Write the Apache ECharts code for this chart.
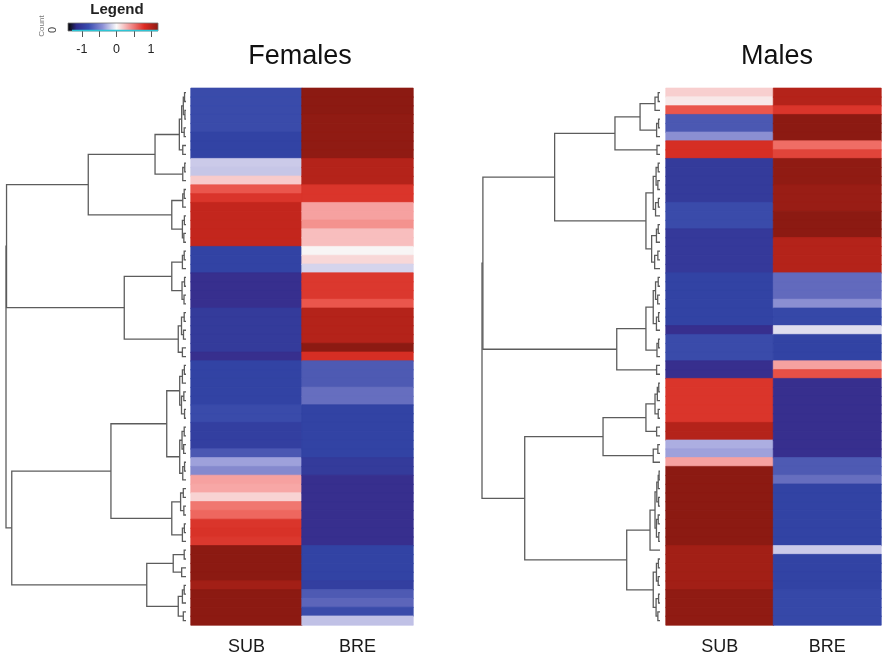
<!DOCTYPE html>
<html>
<head>
<meta charset="utf-8">
<script src="https://cdn.jsdelivr.net/npm/echarts@6/dist/echarts.min.js"></script>
<style>html,body{margin:0;padding:0;background:#fff}#chart{width:885px;height:660px}</style>
</head>
<body>
<div id="chart"></div>
<script>
// ---------------- DATA ----------------
const rowCount = 61;
const columns = ['SUB', 'BRE'];
const panelTitles = ['Females', 'Males'];

const femaleSUB = [-0.92,-0.92,-0.92,-0.92,-0.92,-1.0,-1.0,-1.0,-0.18,-0.2,
  0.2,0.68,0.9,1.05,1.05,1.05,1.05,1.05,-1.0,-1.0,
  -1.0,-1.25,-1.25,-1.25,-1.25,-1.1,-1.1,-1.1,-1.1,-1.1,
  -1.25,-1.0,-1.0,-1.0,-1.0,-1.0,-0.92,-0.92,-1.05,-1.05,
  -1.05,-0.8,-0.36,-0.48,0.38,0.36,0.16,0.54,0.6,0.9,
  0.92,0.88,1.3,1.3,1.3,1.3,1.2,1.3,1.3,1.3,1.3];
const femaleBRE = [1.3,1.3,1.3,1.28,1.28,1.28,1.28,1.28,1.12,1.12,
  1.12,0.9,0.9,0.38,0.38,0.44,0.26,0.26,0.0,0.14,
  -0.14,0.88,0.88,0.88,0.68,1.12,1.12,1.12,1.12,1.3,
  0.95,-0.78,-0.78,-0.78,-0.62,-0.62,-1.0,-1.0,-1.0,-1.0,
  -1.0,-1.0,-1.1,-1.1,-1.25,-1.25,-1.25,-1.25,-1.25,-1.25,
  -1.25,-1.25,-1.0,-1.0,-1.0,-1.0,-1.05,-0.78,-0.68,-0.92,-0.22];
const maleSUB = [0.18,0.06,0.68,-0.8,-0.8,-0.45,0.95,0.95,-1.1,-1.1,
  -1.1,-1.1,-1.1,-0.92,-0.92,-0.92,-1.12,-1.12,-1.12,-1.12,
  -1.12,-1.0,-1.0,-1.0,-1.0,-1.0,-1.0,-1.25,-0.92,-0.92,
  -0.92,-1.25,-1.25,0.9,0.9,0.9,0.9,0.9,1.12,1.12,
  -0.3,-0.36,0.38,1.3,1.3,1.3,1.3,1.3,1.3,1.3,
  1.3,1.3,1.2,1.2,1.2,1.2,1.2,1.28,1.28,1.28,1.28];
const maleBRE = [1.12,1.12,0.9,1.3,1.3,1.3,0.58,0.8,1.28,1.28,
  1.28,1.24,1.24,1.24,1.3,1.3,1.3,1.12,1.12,1.12,
  1.12,-0.64,-0.64,-0.64,-0.45,-0.95,-0.95,-0.1,-1.0,-1.0,
  -1.0,0.38,0.72,-1.25,-1.25,-1.25,-1.25,-1.25,-1.25,-1.25,
  -1.25,-1.25,-0.78,-0.78,-0.62,-1.0,-1.0,-1.0,-1.0,-1.0,
  -1.0,-1.0,-0.18,-1.0,-1.0,-1.0,-1.0,-0.95,-0.95,-0.95,-0.95];

// dendrograms: [height, left, right]; leaves are row indices
const femaleTree = [10,
  [9.97,
    [5.43,
      [1.72,
        [0.37, [0.24, [0.15, [0.08,0,1], [0.06,2,3]], [0.1,4,5]], [0.18,6,7]],
        [0.18, [0.07,8,9], 10]],
      [0.79, [0.18, [0.1,11,12], 13], [0.2, [0.09,14,15], [0.12,16,17]]]],
    [3.43,
      [0.79, [0.2, [0.1,18,19], 20], [0.22, [0.08,21,22], [0.11,23,24]]],
      [0.43, [0.25, [0.1,25,26], [0.14,27,28]], [0.2,29,30]]]],
  [9.68,
    [4.17,
      [1.07,
        [0.35, [0.2, [0.09,31,32], 33], [0.25, [0.12,34,35], [0.08,36,37]]],
        [0.35, [0.22, [0.1,38,39], [0.13,40,41]], [0.18, [0.08,42,43], 44]]],
      [0.79, [0.3, [0.15,45,46], [0.12,47,48]], [0.2, [0.09,49,50], 51]]],
    [2.18,
      [0.71, [0.1,52,53], [0.24,54,55]],
      [0.43, [0.2, [0.1,56,57], 58], [0.15,59,60]]]]];

const maleTree = [10,
  [9.95,
    [5.92,
      [2.53,
        [1.12, [0.28, [0.1,0,1], 2], [0.19, [0.08,3,4], 5]],
        [0.17,6,7]],
      [0.79,
        [0.38, [0.22, [0.1,8,9], [0.12,10,11]], [0.25, [0.09,12,13], 14]],
        [0.47, [0.2, [0.1,15,16], 17], [0.3, [0.12,18,19], 20]]]],
    [2.43,
      [0.79,
        [0.38, [0.25, [0.1,21,22], [0.13,23,24]], [0.2, [0.08,25,26], 27]],
        [0.17, [0.08,28,29], 30]],
      [0.19,31,32]]],
  [7.6,
    [3.2,
      [0.79, [0.28, [0.15, [0.07,33,34], 35], [0.1,36,37]], [0.19,38,39]],
      [0.38, [0.12,40,41], 42]],
    [1.87,
      [0.56,
        [0.28, [0.18, [0.1, [0.05,43,44], 45], [0.08,46,47]], [0.2, [0.1,48,49], [0.07,50,51]]],
        52],
      [0.38, [0.2, [0.09,53,54], [0.1,55,56]], [0.22, [0.08,57,58], [0.12,59,60]]]]]];

const treeMaxHeight = 10;
const legendRange = [-1.4, 1.2];
const legendTicks = [-1, -0.5, 0, 0.5, 1];
const legendLabels = [-1, 0, 1];
const colorMin = -1.3, colorMax = 1.3;

// ---------------- BUILD ----------------
const heatColors = ['#382b8a', '#3245a6', '#6068bc', '#a6a8df', '#f8f5f5', '#f8b0b0', '#ec5a50', '#d42a20', '#8c1a12'];
function hexToRgb(h) { return [parseInt(h.slice(1,3),16), parseInt(h.slice(3,5),16), parseInt(h.slice(5,7),16)]; }
const paletteRgb = heatColors.map(hexToRgb);
function colorFor(v) {
  let t = (v - colorMin) / (colorMax - colorMin);
  t = Math.max(0, Math.min(1, t)) * (paletteRgb.length - 1);
  const i = Math.min(paletteRgb.length - 2, Math.floor(t)), f = t - i;
  const a = paletteRgb[i], b = paletteRgb[i + 1];
  return 'rgb(' + a.map((c, k) => Math.round(c + (b[k] - c) * f)).join(',') + ')';
}
function treeLines(node, out) {
  if (typeof node === 'number') return { h: 0, y: node + 0.5 };
  const a = treeLines(node[1], out), b = treeLines(node[2], out);
  const h = node[0];
  out.push({ coords: [[a.h, a.y], [h, a.y], [h, b.y], [b.h, b.y]] });
  return { h: h, y: (a.y + b.y) / 2 };
}
function heatData(sub, bre) {
  const d = [];
  [sub, bre].forEach(function (col, ci) {
    for (let i = 0; i < rowCount; i++) {
      const c = colorFor(col[i]);
      d.push({ value: [ci, i, col[i]], itemStyle: { color: c, borderColor: c, borderWidth: 0.7 } });
    }
  });
  return d;
}
const femaleLines = []; treeLines(femaleTree, femaleLines);
const maleLines = []; treeLines(maleTree, maleLines);
const rows = Array.from({ length: rowCount }, (_, i) => String(i));

const FONT = '"Liberation Sans", Arial, sans-serif';
const TOP = 88.3, HEIGHT = 536.7;

function dendroAxes(gi) {
  return {
    x: { type: 'value', gridIndex: gi, min: 0, max: treeMaxHeight, inverse: true, show: false },
    y: { type: 'value', gridIndex: gi, min: 0, max: rowCount, inverse: true, show: false }
  };
}
function heatAxes(gi) {
  return {
    x: { type: 'category', gridIndex: gi, data: columns, axisLine: { show: false }, axisTick: { show: false },
         splitLine: { show: false },
         axisLabel: { fontSize: 18, color: '#1a1a1a', fontFamily: FONT, margin: 13 } },
    y: { type: 'category', gridIndex: gi, data: rows, inverse: true, show: false }
  };
}
const fd = dendroAxes(0), fh = heatAxes(1), md = dendroAxes(2), mh = heatAxes(3);

const lo = legendRange[0], hi = legendRange[1];
const off = v => (v - lo) / (hi - lo);
const legendGradient = {
  type: 'linear', x: 0, y: 0, x2: 1, y2: 0,
  colorStops: [
    { offset: off(-1.4), color: '#000000' },
    { offset: off(-1.3), color: '#151530' },
    { offset: off(-1.15), color: '#2e2a8a' },
    { offset: off(-0.8), color: '#3a4cb0' },
    { offset: off(-0.4), color: '#8c90d6' },
    { offset: off(0), color: '#fafafa' },
    { offset: off(0.4), color: '#f29090' },
    { offset: off(0.8), color: '#de2a22' },
    { offset: off(1.2), color: '#8c1a12' }
  ]
};

const option = {
  animation: false,
  backgroundColor: '#ffffff',
  textStyle: { fontFamily: FONT },
  grid: [
    { left: 6, top: TOP, width: 180, height: HEIGHT },
    { left: 191, top: TOP, width: 222, height: HEIGHT },
    { left: 482, top: TOP, width: 178, height: HEIGHT },
    { left: 666, top: TOP, width: 215, height: HEIGHT },
    { left: 68, top: 23, width: 90, height: 8 }
  ],
  xAxis: [fd.x, fh.x, md.x, mh.x, {
    type: 'value', gridIndex: 4, min: lo, max: hi,
    axisLine: { show: false }, splitLine: { show: false },
    axisTick: { show: true, customValues: legendTicks, length: 6, lineStyle: { color: '#555', width: 1 } },
    axisLabel: { customValues: legendLabels, fontSize: 12.5, color: '#222', margin: 12, fontFamily: FONT }
  }],
  yAxis: [fd.y, fh.y, md.y, mh.y, { type: 'value', gridIndex: 4, min: 0, max: 1, show: false }],
  series: [
    { type: 'lines', coordinateSystem: 'cartesian2d', xAxisIndex: 0, yAxisIndex: 0, polyline: true,
      silent: true, data: femaleLines, lineStyle: { color: '#5c5c5c', width: 1.3, opacity: 1 } },
    { type: 'heatmap', xAxisIndex: 1, yAxisIndex: 1, data: heatData(femaleSUB, femaleBRE),
      emphasis: { disabled: true } },
    { type: 'lines', coordinateSystem: 'cartesian2d', xAxisIndex: 2, yAxisIndex: 2, polyline: true,
      silent: true, data: maleLines, lineStyle: { color: '#5c5c5c', width: 1.3, opacity: 1 } },
    { type: 'heatmap', xAxisIndex: 3, yAxisIndex: 3, data: heatData(maleSUB, maleBRE),
      emphasis: { disabled: true } },
    { type: 'custom', xAxisIndex: 4, yAxisIndex: 4, data: [[lo, hi]], encode: { x: [0, 1] }, silent: true,
      renderItem: function (params, api) {
        const p0 = api.coord([api.value(0), 1]);
        const p1 = api.coord([api.value(1), 0]);
        return { type: 'group', children: [
          { type: 'rect', shape: { x: p0[0], y: p0[1], width: p1[0] - p0[0], height: p1[1] - p0[1] },
            style: { fill: legendGradient, stroke: '#777', lineWidth: 0.8 } },
          { type: 'line', shape: { x1: p0[0] + 4, y1: p1[1] - 0.5, x2: p1[0], y2: p1[1] - 0.5 },
            style: { stroke: '#2cc6d6', lineWidth: 1.4 } }
        ] };
      } }
  ],
  graphic: [
    { type: 'text', x: 300, y: 57, style: { text: panelTitles[0], fontSize: 27, fill: '#111', fontFamily: FONT, align: 'center', verticalAlign: 'middle' } },
    { type: 'text', x: 777, y: 57, style: { text: panelTitles[1], fontSize: 27, fill: '#111', fontFamily: FONT, align: 'center', verticalAlign: 'middle' } },
    { type: 'text', x: 117, y: 10, style: { text: 'Legend', fontSize: 15, fontWeight: 'bold', fill: '#222', fontFamily: FONT, align: 'center', verticalAlign: 'middle' } },
    { type: 'text', x: 42, y: 26, rotation: Math.PI / 2, style: { text: 'Count', fontSize: 8, fill: '#777', fontFamily: FONT, align: 'center', verticalAlign: 'middle' } },
    { type: 'text', x: 53, y: 30, rotation: Math.PI / 2, style: { text: '0', fontSize: 11, fill: '#444', fontFamily: FONT, align: 'center', verticalAlign: 'middle' } }
  ]
};

const chart = echarts.init(document.getElementById('chart'), null, { renderer: 'canvas' });
chart.setOption(option);
</script>
</body>
</html>
